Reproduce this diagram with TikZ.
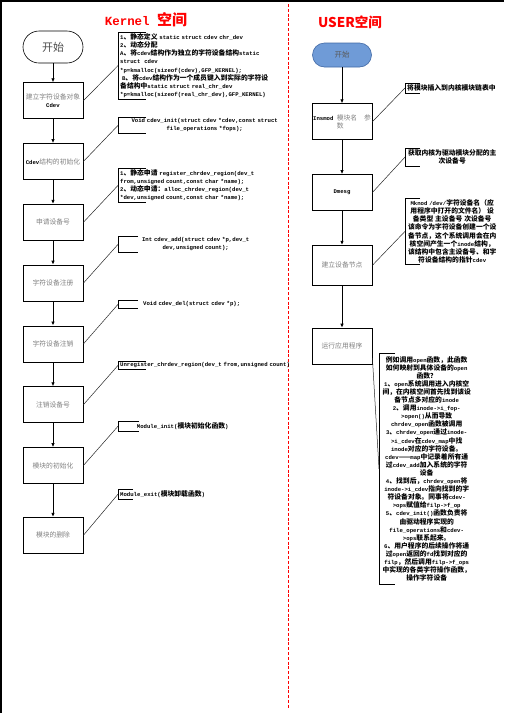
\documentclass[tikz,border=0pt]{standalone}
\usepackage{fontspec}
\setmainfont{Liberation Mono}[Scale=0.83]
\newfontfamily\cjk{Noto Sans CJK SC}
\usetikzlibrary{
  positioning,
  arrows.meta              % latex arrowheads
}
% Han characters and full-width punctuation go to the CJK face
\XeTeXinterchartokenstate=1
\newcount\charno
\charno=0
\loop \XeTeXcharclass\charno=0 \advance\charno by 1 \ifnum\charno<"3000 \repeat
\XeTeXcharclass"2014=7
\charno="3000
\loop \XeTeXcharclass\charno=7 \advance\charno by 1 \ifnum\charno<"3040 \repeat
\charno="4E00
\loop \XeTeXcharclass\charno=7 \advance\charno by 1 \ifnum\charno<"A000 \repeat
\charno="FF00
\loop \XeTeXcharclass\charno=7 \advance\charno by 1 \ifnum\charno<"FFF0 \repeat
\XeTeXinterchartoks 0 7 = {\cjk}
\XeTeXinterchartoks 4095 7 = {\cjk}
\XeTeXinterchartoks 7 0 = {\rmfamily}
\XeTeXinterchartoks 7 4095 = {\rmfamily}

\definecolor{labelgray}{RGB}{128,128,128}
\definecolor{startblue}{RGB}{111,155,215}
\definecolor{startedge}{RGB}{65,105,165}

\begin{document}
\begin{tikzpicture}[
    x=1pt, y=1pt,
    >={Latex[length=4pt,width=3.5pt]},
    node distance=24pt,
    every node/.style={align=center},
    stepbox/.style={rectangle, draw, line width=0.8pt, minimum width=60pt,
                    minimum height=36pt, inner sep=1pt, text=labelgray,
                    font=\fontsize{6.8}{8.1}\selectfont},
    kstartbox/.style={rectangle, rounded corners=16pt, draw, line width=0.6pt,
                      minimum width=60pt, minimum height=32pt, text=black!70,
                      font=\fontsize{11}{13}\selectfont},
    ustartbox/.style={rectangle, rounded corners=12pt, draw=startedge,
                      fill=startblue, line width=0.6pt, minimum width=59pt,
                      minimum height=24pt, text=black!65,
                      font=\fontsize{7.5}{9}\selectfont},
    note/.style={inner xsep=2pt, inner ysep=1.5pt, anchor=north west,
                 font=\fontsize{6.8}{8.1}\selectfont\bfseries},
    link/.style={line width=0.5pt, black!85},
    title/.style={text=red, font=\fontsize{15}{18}\selectfont\bfseries}
]
  \useasboundingbox (0,0) rectangle (504,-713);

  % page frame and the divider between the two spaces
  \coordinate (frametop) at (504,-0.75);
  \coordinate (framecorner) at (0.75,-0.75);
  \coordinate (framebottom) at (0.75,-713);
  \draw[line width=1.5pt] (framebottom) -- (framecorner) -- (frametop);
  \coordinate (divtop) at (288,-4);
  \coordinate (divbot) at (288,-708);
  \draw[red, line width=1pt, dash pattern=on 3pt off 1.8pt] (divtop) -- (divbot);

  \node[title] (ktitle) at (146,-20) {Kernel 空间};
  \node[title, font=\cjk\fontsize{13.5}{16}\selectfont\bfseries] (utitle)
        at (350,-22) {USER空间};

  % kernel side
  \node[kstartbox] (kstart) at (53,-47) {开始};
  \node[stepbox, below=19pt of kstart] (cobj)
        {建立字符设备对象\\{\color{black}\bfseries Cdev}};
  \node[stepbox, below=of cobj]    (cinit)   {{\color{black}\bfseries Cdev}结构的初始化};
  \node[stepbox, below=of cinit]   (devno)   {申请设备号};
  \node[stepbox, below=of devno]   (reg)     {字符设备注册};
  \node[stepbox, below=of reg]     (unreg)   {字符设备注销};
  \node[stepbox, below=of unreg]   (freeno)  {注销设备号};
  \node[stepbox, below=of freeno]  (modinit) {模块的初始化};
  \node[stepbox, below=33pt of modinit] (modexit) {模块的删除};

  \node[note, text width=165pt, align=left] (n1) at (118,-32)
        {1、静态定义 static struct cdev chr\_dev\\
         2、动态分配\\
         A、将cdev结构作为独立的字符设备结构static\\
         struct\ \ cdev\\
         {*}p=kmalloc(sizeof(cdev),GFP\_KERNEL);\\
         \ B、将cdev结构作为一个成员键入到实际的字符设\\
         备结构中static struct real\_chr\_dev\\
         {*}p=kmalloc(sizeof(real\_chr\_dev),GFP\_KERNEL)};
  \node[note, text width=169pt] (n2) at (118,-117)
        {Void cdev\_init(struct cdev *cdev,const struct\\
         file\_operations *fops);};
  \node[note, text width=165pt, align=left] (n3) at (118,-168)
        {1、静态申请 register\_chrdev\_region(dev\_t\\
         from,unsigned count,const char *name);\\
         2、动态申请：alloc\_chrdev\_region(dev\_t\\
         {*}dev,unsigned count,const char *name);};
  \node[note, text width=151pt] (n4) at (118,-236)
        {Int cdev\_add(struct cdev *p,dev\_t\\
         dev,unsigned count);};
  \node[note, text width=143pt] (n5) at (118,-300)
        {Void cdev\_del(struct cdev *p);};
  \node[note, text width=180pt, align=left] (n6) at (118,-361)
        {Unregister\_chrdev\_region(dev\_t from,unsigned count)};
  \node[note, text width=125pt] (n7) at (118,-421)
        {Module\_init(模块初始化函数)};
  \node[note, text width=100pt, align=left] (n8) at (118,-489)
        {Module\_exit(模块卸载函数)};

  % user side
  \node[ustartbox] (ustart) at (342,-55) {开始};
  \node[stepbox, below=36pt of ustart, align=left] (insmod)
        {{\color{black}\bfseries Insmod}\ 模块名\ \ 参\\
         \phantom{\bfseries Insmod}\ 数};
  \node[stepbox, below=34pt of insmod] (dmesg)
        {{\color{black}\bfseries Dmesg}};
  \node[stepbox, below=34pt of dmesg, minimum height=40pt] (mknode) {建立设备节点};
  \node[stepbox, below=42pt of mknode] (runapp) {运行应用程序};

  \node[note, text width=95pt, align=left] (m1) at (405,-83)
        {将模块插入到内核模块链表中};
  \node[note, text width=90pt] (m2) at (405,-148)
        {获取内核为驱动模块分配的主\\次设备号};
  \node[note, text width=90pt] (m3) at (405,-198)
        {Mknod /dev/字符设备名（应\\
         用程序中打开的文件名） 设\\
         备类型 主设备号 次设备号\\
         该命令为字符设备创建一个设\\
         备节点，这个系统调用会在内\\
         核空间产生一个inode结构，\\
         该结构中包含主设备号、和字\\
         符设备结构的指针cdev};
  \node[note, text width=91pt, inner ysep=3pt] (m4) at (379,-353)
        {例如调用open函数，此函数\\
         如何映射到具体设备的open\\
         函数？\\
         1、open系统调用进入内核空\\
         间，在内核空间首先找到该设\\
         备节点多对应的inode\\
         2、调用inode->i\_fop-\\
         >open()从而导致\\
         chrdev\_open函数被调用\\
         3、chrdev\_open通过inode-\\
         >i\_cdev在cdev\_map中找\\
         inode对应的字符设备。\\
         cdev——map中记录着所有通\\
         过cdev\_add加入系统的字符\\
         设备\\
         4、找到后，chrdev\_open将\\
         inode->i\_cdev指向找到的字\\
         符设备对象。同事将cdev-\\
         >ops赋值给filp->f\_op\\
         5、cdev\_init()函数负责将\\
         由驱动程序实现的\\
         file\_operations和cdev-\\
         >ops联系起来。\\
         6、用户程序的后续操作将通\\
         过open返回的fd找到对应的\\
         filp，然后调用filp->f\_ops\\
         中实现的各类字符操作函数，\\
         操作字符设备};

  % annotation brackets
  \foreach \n/\a in {n1/28, n2/28, n3/28, n4/20, n5/20, n6/28, n7/21, n8/15,
                     m1/15, m2/15, m3/15, m4/16}
    \draw[line width=0.8pt] ([xshift=\a pt]\n.north west) -| (\n.south west)
          -- ([xshift=\a pt]\n.south west);

  % flow
  \draw[->, line width=0.8pt] (kstart)  -- (cobj);
  \draw[->, line width=0.8pt] (cobj)    -- (cinit);
  \draw[->, line width=0.8pt] (cinit)   -- (devno);
  \draw[->, line width=0.8pt] (devno)   -- (reg);
  \draw[->, line width=0.8pt] (reg)     -- (unreg);
  \draw[->, line width=0.8pt] (unreg)   -- (freeno);
  \draw[->, line width=0.8pt] (freeno)  -- (modinit);
  \draw[->, line width=0.8pt] (modinit) -- (modexit);

  \draw[->, line width=0.8pt] (ustart) -- (insmod);
  \draw[->, line width=0.8pt] (insmod) -- (dmesg);
  \draw[->, line width=0.8pt] (dmesg)  -- (mknode);
  \draw[->, line width=0.8pt] (mknode) -- (runapp);

  % callout lines
  \draw[link] (cobj.east)    -- (n1.west);
  \draw[link] (cinit.east)   -- (n2.west);
  \draw[link] (devno.east)   -- (n3.west);
  \draw[link] (reg.east)     -- (n4.west);
  \draw[link] (unreg.east)   -- (n5.west);
  \draw[link] (freeno.east)  -- (n6.west);
  \draw[link] (modinit.east) -- (n7.west);
  \draw[link] (modexit.east) -- (n8.west);
  \draw[link] (insmod.east)  -- (m1.west);
  \draw[link] (dmesg.east)   -- (m2.west);
  \draw[link] (mknode.east)  -- (m3.west);
  \draw[link] ([yshift=-12pt]runapp.east) -- (m4.west);
\end{tikzpicture}
\end{document}
